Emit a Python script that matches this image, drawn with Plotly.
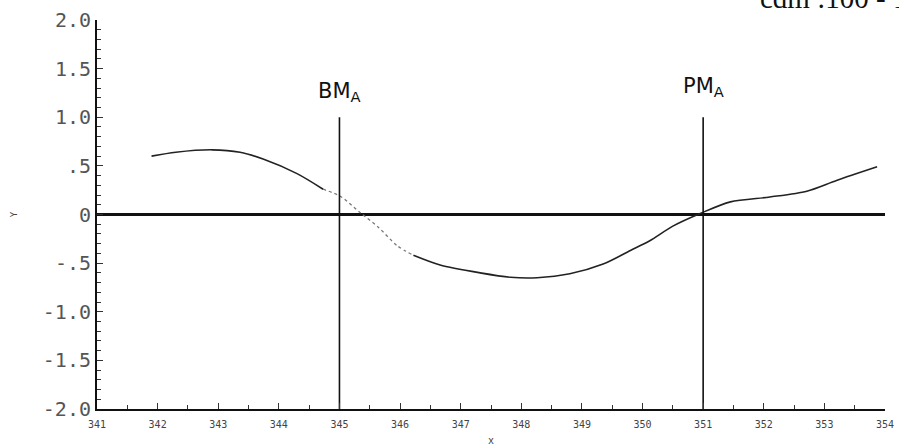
import plotly.graph_objects as go

# Curve data
curve_x = [341.9, 342.3, 342.9, 343.36, 343.74, 344.3, 344.73, 345.02, 345.34, 345.64,
           345.95, 346.22, 346.66, 347.32, 347.82, 348.26, 348.8, 349.35, 349.8, 350.12,
           350.5, 350.95, 351.45, 352.1, 352.71, 353.2, 353.87]
curve_y = [0.60, 0.64, 0.665, 0.64, 0.57, 0.42, 0.26, 0.185, 0.02, -0.13,
           -0.32, -0.42, -0.52, -0.60, -0.645, -0.65, -0.61, -0.51, -0.37, -0.27,
           -0.12, 0.01, 0.13, 0.18, 0.24, 0.35, 0.49]

# Marker lines
marker_x = [345, 351]
marker_labels = ["BM<sub>A</sub>", "PM<sub>A</sub>"]
marker_top = 1.0
marker_label_y = [1.26, 1.31]

y_tickvals = [2.0, 1.5, 1.0, 0.5, 0.0, -0.5, -1.0, -1.5, -2.0]
y_ticktext = ["2.0", "1.5", "1.0", ".5", "0", "-.5", "-1.0", "-1.5", "-2.0"]
x_tickvals = list(range(341, 355))

ink = "#222222"
fig = go.Figure()

# faint segment split (scan artefact: lighter section)
i0, i1 = 6, 11
fig.add_trace(go.Scatter(x=curve_x[:i0 + 1], y=curve_y[:i0 + 1], mode="lines",
                         line=dict(color=ink, width=1.6, shape="spline", smoothing=0.8),
                         showlegend=False))
fig.add_trace(go.Scatter(x=curve_x[i0:i1 + 1], y=curve_y[i0:i1 + 1], mode="lines",
                         line=dict(color="#777777", width=1.3, shape="spline", dash="dot",
                                   smoothing=0.8),
                         showlegend=False))
fig.add_trace(go.Scatter(x=curve_x[i1:], y=curve_y[i1:], mode="lines",
                         line=dict(color=ink, width=1.6, shape="spline", smoothing=0.8),
                         showlegend=False))

for mx in marker_x:
    fig.add_trace(go.Scatter(x=[mx, mx], y=[-2.0, marker_top], mode="lines",
                             line=dict(color="#111111", width=1.6), showlegend=False))

for mx, lab, ly in zip(marker_x, marker_labels, marker_label_y):
    fig.add_annotation(x=mx, y=ly, text=lab, showarrow=False, xref="x", yref="y",
                       font=dict(family="DejaVu Sans", size=21, color="#111111"))

plot_l, plot_r, plot_t, plot_b = 97, 885, 20, 409
fig.add_annotation(x=(758 - plot_l) / (plot_r - plot_l), y=(plot_b - 10) / (plot_b - plot_t),
                   xref="paper", yref="paper", text="cdm :100 - 1", showarrow=False,
                   xanchor="left", yanchor="bottom", yshift=-6,
                   font=dict(family="Liberation Serif", size=29, color="#111111"))

mono = "DejaVu Sans Mono"
fig.update_layout(
    width=899, height=448,
    margin=dict(l=97, r=14, t=20, b=39, autoexpand=False),
    paper_bgcolor="white", plot_bgcolor="white",
    xaxis=dict(range=[341, 354], tickvals=x_tickvals, ticks="inside", ticklen=6,
               tickwidth=1, tickcolor="#333", showline=True, linecolor="#111", linewidth=2,
               showgrid=False, zeroline=False, ticklabelstandoff=5, automargin=False,
               minor=dict(dtick=0.5, tick0=341, ticks="inside", ticklen=4, tickcolor="#333"),
               tickfont=dict(family=mono, size=10, color="#444"),
               title=dict(text="x", font=dict(family=mono, size=10, color="#444"), standoff=8)),
    yaxis=dict(range=[-2, 2], tickvals=y_tickvals, ticktext=y_ticktext, ticks="inside",
               ticklen=6, tickwidth=1.2, tickcolor="#333", showline=True, linecolor="#111",
               linewidth=2, showgrid=False, zeroline=True, zerolinecolor="#111",
               zerolinewidth=2.5, automargin=False,
               minor=dict(dtick=0.1, tick0=0, ticks="inside", ticklen=4, tickcolor="#333"),
               tickfont=dict(family=mono, size=20, color="#555"),
               title=dict(text="Y", font=dict(family=mono, size=9, color="#444"), standoff=24)),
)

fig.write_html("out.html")
